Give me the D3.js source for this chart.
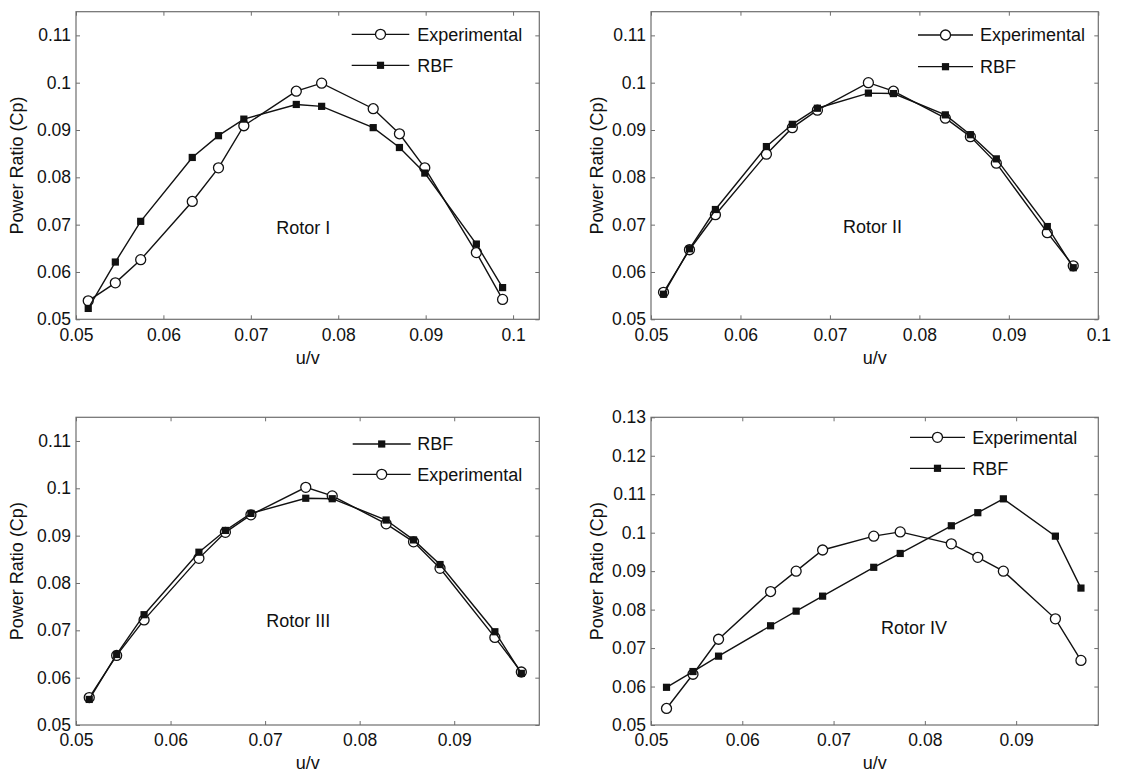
<!DOCTYPE html>
<html>
<head>
<meta charset="utf-8">
<script src="https://cdn.jsdelivr.net/npm/d3@7"></script>
<style>
  html, body { margin: 0; padding: 0; background: #fff; }
  svg { display: block; font-family: "Liberation Sans", Arial, Helvetica, sans-serif; }
</style>
</head>
<body>
<svg id="chart" width="1132" height="772"></svg>
<script>
// ── data ──
const rotor1X   = [0.0514, 0.0545, 0.0574, 0.0633, 0.0663, 0.0692, 0.0752, 0.0781, 0.0840, 0.0870, 0.0899, 0.0958, 0.0988];
const rotor1Exp = [0.0539, 0.0577, 0.0626, 0.0749, 0.0820, 0.0909, 0.0982, 0.0999, 0.0945, 0.0892, 0.0820, 0.0641, 0.0542];
const rotor1Rbf = [0.0523, 0.0621, 0.0707, 0.0842, 0.0888, 0.0923, 0.0954, 0.0950, 0.0905, 0.0863, 0.0809, 0.0659, 0.0567];

const rotor2X   = [0.0514, 0.0543, 0.0572, 0.0629, 0.0658, 0.0686, 0.0743, 0.0771, 0.0829, 0.0857, 0.0886, 0.0943, 0.0972];
const rotor2Exp = [0.0557, 0.0647, 0.0721, 0.0849, 0.0905, 0.0942, 0.1000, 0.0982, 0.0925, 0.0886, 0.0830, 0.0683, 0.0613];
const rotor2Rbf = [0.0553, 0.0649, 0.0732, 0.0865, 0.0912, 0.0946, 0.0978, 0.0977, 0.0932, 0.0890, 0.0839, 0.0696, 0.0609];

const rotor3X   = [0.0514, 0.0543, 0.0572, 0.0630, 0.0658, 0.0685, 0.0743, 0.0771, 0.0828, 0.0857, 0.0885, 0.0943, 0.0971];
const rotor3Exp = [0.0558, 0.0647, 0.0722, 0.0852, 0.0907, 0.0944, 0.1002, 0.0984, 0.0925, 0.0887, 0.0831, 0.0685, 0.0612];
const rotor3Rbf = [0.0554, 0.0649, 0.0733, 0.0865, 0.0911, 0.0947, 0.0979, 0.0978, 0.0933, 0.0891, 0.0839, 0.0697, 0.0609];

const rotor4X   = [0.0517, 0.0546, 0.0574, 0.0631, 0.0659, 0.0688, 0.0744, 0.0773, 0.0829, 0.0858, 0.0886, 0.0943, 0.0971];
const rotor4Exp = [0.0543, 0.0632, 0.0723, 0.0847, 0.0900, 0.0955, 0.0991, 0.1002, 0.0971, 0.0936, 0.0900, 0.0776, 0.0668];
const rotor4Rbf = [0.0598, 0.0639, 0.0679, 0.0758, 0.0796, 0.0835, 0.0910, 0.0946, 0.1018, 0.1052, 0.1088, 0.0991, 0.0856];

const xTicksTo10 = [0.05, 0.06, 0.07, 0.08, 0.09, 0.1];
const xTicksTo09 = [0.05, 0.06, 0.07, 0.08, 0.09];
const yTicksTo11 = [0.05, 0.06, 0.07, 0.08, 0.09, 0.1, 0.11];
const yTicksTo13 = [0.05, 0.06, 0.07, 0.08, 0.09, 0.1, 0.11, 0.12, 0.13];

const seriesNames = { exp: "Experimental", rbf: "RBF" };

const panels = [
  { title: "Rotor I",   x: rotor1X, exp: rotor1Exp, rbf: rotor1Rbf, legend: ["exp", "rbf"],
    xDomain: [0.05, 0.103], yDomain: [0.05, 0.115], xTicks: xTicksTo10, yTicks: yTicksTo11 },
  { title: "Rotor II",  x: rotor2X, exp: rotor2Exp, rbf: rotor2Rbf, legend: ["exp", "rbf"],
    xDomain: [0.05, 0.1],   yDomain: [0.05, 0.115], xTicks: xTicksTo10, yTicks: yTicksTo11 },
  { title: "Rotor III", x: rotor3X, exp: rotor3Exp, rbf: rotor3Rbf, legend: ["rbf", "exp"],
    xDomain: [0.05, 0.099], yDomain: [0.05, 0.115], xTicks: xTicksTo09, yTicks: yTicksTo11 },
  { title: "Rotor IV",  x: rotor4X, exp: rotor4Exp, rbf: rotor4Rbf, legend: ["exp", "rbf"],
    xDomain: [0.05, 0.099], yDomain: [0.05, 0.13],  xTicks: xTicksTo09, yTicks: yTicksTo13 }
];

// ── layout (pixels) ──
const layout = [
  { l: 76,  t: 11.7,  r: 539.3,  b: 319.3, ylabX: 23,  leg: { x0: -187.6, x1: -130, tx: -122, y0: 22.6, dy: 31 }, ann: [227.3, 222.3] },
  { l: 651, t: 11.7,  r: 1098.3, b: 319.3, ylabX: 603, leg: { x0: -180.3, x1: -125.3, tx: -118.3, y0: 23.3, dy: 31.7 }, ann: [221.5, 221] },
  { l: 76,  t: 417.3, r: 539.3,  b: 725,   ylabX: 23,  leg: { x0: -186.6, x1: -128.6, tx: -122, y0: 26.7, dy: 30.3 }, ann: [222.3, 209.4] },
  { l: 651, t: 417.3, r: 1098.3, b: 725,   ylabX: 603, leg: { x0: -188.3, x1: -133.3, tx: -126, y0: 20, dy: 31 }, ann: [263, 217] }
];

const tickFmt = d => String(+d.toFixed(3));
const svg = d3.select("#chart");
svg.append("rect").attr("width", 1132).attr("height", 772).attr("fill", "#fff");

const boxCol = "#6e6e6e";
const lineCol = "#111";

function drawMarker(g, key, cx, cy) {
  if (key === "exp") {
    g.append("circle").attr("cx", cx).attr("cy", cy).attr("r", 5)
      .attr("fill", "#fff").attr("stroke", lineCol).attr("stroke-width", 1.3);
  } else {
    g.append("rect").attr("x", cx - 3.6).attr("y", cy - 3.6).attr("width", 7.2).attr("height", 7.2)
      .attr("fill", lineCol);
  }
}

panels.forEach((p, i) => {
  const L = layout[i];
  const w = L.r - L.l, h = L.b - L.t;
  const g = svg.append("g").attr("transform", `translate(${L.l},${L.t})`);
  const x = d3.scaleLinear().domain(p.xDomain).range([0, w]);
  const y = d3.scaleLinear().domain(p.yDomain).range([h, 0]);

  // axes: MATLAB-style inward ticks on all four sides
  const styleAxis = sel => {
    sel.select(".domain").remove();
    sel.selectAll(".tick line").attr("stroke", boxCol).attr("stroke-width", 1);
    sel.selectAll(".tick text").attr("fill", "#111").style("font-size", "17.5px");
  };
  g.append("g").attr("transform", `translate(0,${h})`)
    .call(d3.axisBottom(x).tickValues(p.xTicks).tickFormat(tickFmt).tickSizeInner(-4).tickSizeOuter(0).tickPadding(9))
    .call(styleAxis);
  g.append("g")
    .call(d3.axisTop(x).tickValues(p.xTicks).tickFormat("").tickSizeInner(-4).tickSizeOuter(0))
    .call(styleAxis);
  g.append("g")
    .call(d3.axisLeft(y).tickValues(p.yTicks).tickFormat(tickFmt).tickSizeInner(-4).tickSizeOuter(0).tickPadding(5))
    .call(styleAxis);
  g.append("g").attr("transform", `translate(${w},0)`)
    .call(d3.axisRight(y).tickValues(p.yTicks).tickFormat("").tickSizeInner(-4).tickSizeOuter(0))
    .call(styleAxis);
  g.selectAll(".tick text").attr("font-family", null);
  g.selectAll("g").attr("font-family", null).attr("font-size", null);

  g.append("rect").attr("width", w).attr("height", h)
    .attr("fill", "none").attr("stroke", boxCol).attr("stroke-width", 1.2);

  // series: experimental first, RBF on top
  const line = d3.line().x(d => x(d[0])).y(d => y(d[1]));
  ["exp", "rbf"].forEach(key => {
    const pts = p.x.map((xv, j) => [xv, p[key][j]]);
    g.append("path").datum(pts).attr("d", line)
      .attr("fill", "none").attr("stroke", lineCol).attr("stroke-width", 1.4);
    pts.forEach(d => drawMarker(g, key, x(d[0]), y(d[1])));
  });

  // legend (no box)
  p.legend.forEach((key, k) => {
    const ly = L.leg.y0 + k * L.leg.dy;
    g.append("line").attr("x1", w + L.leg.x0).attr("x2", w + L.leg.x1).attr("y1", ly).attr("y2", ly)
      .attr("stroke", lineCol).attr("stroke-width", 1.3);
    drawMarker(g, key, w + (L.leg.x0 + L.leg.x1) / 2, ly);
    g.append("text").attr("x", w + L.leg.tx).attr("y", ly).attr("dy", "0.35em")
      .style("font-size", "18px").attr("fill", "#111").text(seriesNames[key]);
  });

  // rotor annotation
  g.append("text").attr("x", L.ann[0]).attr("y", L.ann[1]).attr("text-anchor", "middle")
    .style("font-size", "18px").attr("fill", "#111").text(p.title);

  // axis labels
  g.append("text").attr("x", w / 2).attr("y", h + 44.5).attr("text-anchor", "middle")
    .style("font-size", "18px").attr("fill", "#111").text("u/v");
  svg.append("text").attr("transform", `translate(${L.ylabX},${(L.t + L.b) / 2}) rotate(-90)`)
    .attr("text-anchor", "middle").style("font-size", "18px").attr("fill", "#111")
    .text("Power Ratio (Cp)");
});
</script>
</body>
</html>
